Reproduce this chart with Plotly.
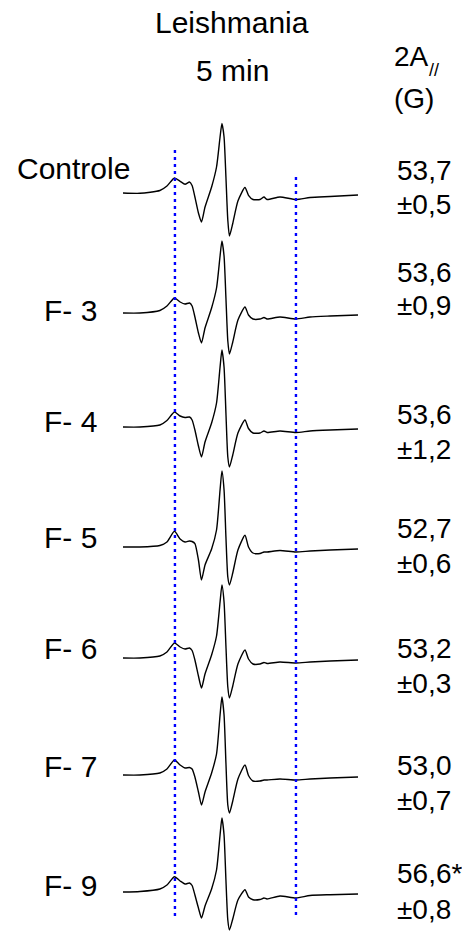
import plotly.graph_objects as go

# Magnetic field grid (G, relative to scan start) shared by all spectra
field = [0, 7.2, 15.7, 18.7, 21.9, 24.3, 26.4, 28.3, 29.4, 30.6, 32.1, 33.4, 34.9,
         37.7, 39.8, 41.3, 42.1, 43.0, 43.8, 44.6, 45.3, 46.7, 48.9, 51.9, 53.4,
         55.3, 58.3, 60.0, 61.3, 66.8, 73.6, 79.6, 88.1, 100]

# EPR signal amplitudes (arbitrary units) for each sample
controle = [0, -0.3, 2.5, 7, 15, 11.7, 8.7, 11, 7.5, -4, -20, -29, -14, 6, 26, 56, 69.5, 56, 16,
            -27, -43, -30.5, -8, 5.5, -2.3, -6.5, -6.5, -4, -6.5, -4, -6.5, -4.5, -3.5, -2]
f3 = [0, 0, 2.5, 7, 15, 11, 9, 10, 7, -4, -20, -30, -15, 5, 25, 57, 72, 57, 15,
      -28, -41, -29, -7, 6, -2, -6, -6, -4.5, -6, -4, -6, -4, -3, -2]
f4 = [0, 0, 2, 6.5, 15, 11, 9.5, 10, 7, -3, -19, -30, -15, 4, 24, 60, 77, 60, 14,
      -30, -40, -28, -6, 7, -1.5, -6, -6, -4, -5.5, -4, -5.5, -4, -3, -2]
f5 = [0, 0, 1.5, 5, 15.7, 8, 5, 6, 5.5, 3.4, -13, -33, -18, -2, 17, 57, 76, 57, 10,
      -30, -38, -26, -3, 11.7, 0, -6, -6.5, -5, -5, -3.5, -5, -4, -3, -2]
f6 = [0, 0, 2, 6, 15, 11, 9, 10, 7.5, -2, -18, -30, -16, 3, 22, 56, 73, 56, 12,
      -29, -40, -28, -6, 8, -1, -6, -6, -4.5, -5.5, -4, -5, -4, -3, -2]
f7 = [0, 0, 2, 6, 15, 10, 7, 7.5, 6, -2, -17, -30, -17, 2, 21, 60, 78, 60, 12,
      -30, -38, -26, -4, 10, -0.5, -6, -6, -5, -5, -4, -5, -4, -3, -2]
f9 = [0, 0.5, 3, 7, 15.3, 11, 8, 9, 6.5, -3, -16, -26, -14, 3, 22, 57, 74, 57, 12,
      -28, -38, -27, -8, 2.3, -5, -7.7, -7.5, -6, -7, -4, -6, -3.5, -2.7, -2]

samples = ["Controle", "F- 3", "F- 4", "F- 5", "F- 6", "F- 7", "F- 9"]
spectra = [controle, f3, f4, f5, f6, f7, f9]
a_par = ["53,7", "53,6", "53,6", "52,7", "53,2", "53,0", "56,6*"]
a_err = ["±0,5", "±0,9", "±1,2", "±0,6", "±0,3", "±0,7", "±0,8"]

# Field positions of the low-field maximum and high-field minimum (G)
ref_fields = [22.1, 73.6]

# ---- layout (pixel-based) ----
W, H = 462, 931
PX_PER_G = 2.35
X0_PX = 123
baselines = [193, 313, 427, 547, 658, 775, 892]
label_pos = [(15, 168), (42, 310), (42, 421), (42, 537), (42, 648), (42, 766), (42, 885)]
val_pos = [(171, 204), (272, 305), (414, 449), (528, 563), (648, 683), (765, 800), (873, 909)]
guide_spans = [(150, 917), (177, 918)]

FONT = "Liberation Sans, Arial, sans-serif"

fig = go.Figure()

for spec, base in zip(spectra, baselines):
    fig.add_trace(go.Scatter(
        x=field, y=[base - v for v in spec], mode="lines",
        line=dict(color="black", width=1.4, shape="spline", smoothing=0.6),
        hoverinfo="skip"))

for fx, (top, bot) in zip(ref_fields, guide_spans):
    fig.add_trace(go.Scatter(
        x=[fx, fx], y=[top, bot], mode="lines",
        line=dict(color="#0000ff", width=2.4, dash="3px,4px"),
        hoverinfo="skip"))


def ann(text, xpx, ypx, size, anchor="left"):
    fig.add_annotation(text=text, x=xpx / W, y=1 - ypx / H, xref="paper", yref="paper",
                       xanchor=anchor, yanchor="middle", showarrow=False,
                       font=dict(family=FONT, size=size, color="black"))


ann("Leishmania", 232, 23, 30, "center")
ann("5 min", 233, 70, 30, "center")
ann("2A", 392, 57, 28)
ann("//", 427, 70, 18)
ann("(G)", 392, 98, 28)

for name, (lx, ly) in zip(samples, label_pos):
    ann(name, lx, ly, 30)

for v, e, (y1, y2) in zip(a_par, a_err, val_pos):
    ann(v, 395, y1, 28)
    ann(e, 395, y2, 28)

fig.update_layout(
    width=W, height=H, margin=dict(l=0, r=0, t=0, b=0),
    paper_bgcolor="white", plot_bgcolor="white", showlegend=False,
    xaxis=dict(range=[-X0_PX / PX_PER_G, (W - X0_PX) / PX_PER_G], visible=False),
    yaxis=dict(range=[H, 0], visible=False),
)

fig.write_html("out.html")
